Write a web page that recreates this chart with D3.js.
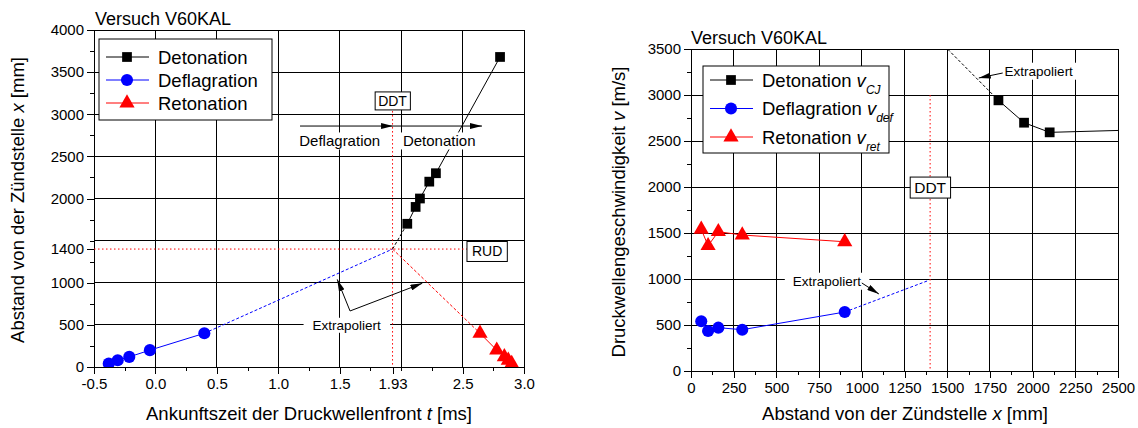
<!DOCTYPE html>
<html>
<head>
<meta charset="utf-8">
<title>Versuch V60KAL</title>
<script src="https://d3js.org/d3.v7.min.js"></script>
<style>
    body { margin: 0; background: #fff; }
    svg { font-family: "Liberation Sans", Arial, sans-serif; }
    .grid line { stroke: #000; stroke-width: 1; shape-rendering: crispEdges; }
    .axis path { display: none; }
    .axis line { stroke: #000; shape-rendering: crispEdges; }
    .axis text { font-size: 15px; fill: #000; }
</style>
</head>
<body>
<svg width="1138" height="428"></svg>
<script>

// ---- left chart: Ankunftszeit t [ms] -> Abstand x [mm]
const detT = [2.05, 2.118, 2.153, 2.229, 2.283, 2.805];
const detX = [1700, 1900, 2000, 2200, 2300, 3680];
const defT = [-0.38, -0.307, -0.213, -0.045, 0.398];
const defX = [40, 80, 120, 200, 400];
const retT = [2.642, 2.778, 2.84, 2.872, 2.9];
const retX = [400, 200, 120, 80, 40];
const ddtT = 1.93, ddtX = 1400;

const leftXTicks = [-0.5, 0, 0.5, 1.0, 1.5, 1.93, 2.5, 3.0];
const leftXMinor = [-0.25, 0.25, 0.75, 1.25, 1.75, 2.0, 2.25, 2.75];
const leftXGrid = [0, 0.5, 1.0, 1.5, 2.0, 2.5];
const leftYTicks = [0, 500, 1000, 1400, 2000, 2500, 3000, 3500, 4000];
const leftYMinor = [250, 750, 1250, 1500, 1750, 2250, 2750, 3250, 3750];
const leftYGrid = [500, 1000, 1500, 2000, 2500, 3000, 3500];

// ---- right chart: Abstand x [mm] -> Geschwindigkeit v [m/s]
const vDetX = [1800, 1950, 2100, 2990];
const vDet = [2942, 2699, 2594, 2640];
const vDefX = [60, 100, 160, 300, 900];
const vDef = [540, 435, 471, 449, 641];
const vRetX = [60, 100, 160, 300, 900];
const vRet = [1540, 1362, 1514, 1478, 1405];
const vDetExtraX = [1400, 1800], vDetExtra = [3690, 2942];
const vDefExtraX = [900, 1385], vDefExtra = [641, 980];

const rightXTicks = d3.range(0, 2501, 250);
const rightXMinor = d3.range(125, 2500, 250);
const rightYTicks = d3.range(0, 3501, 500);
const rightYMinor = d3.range(250, 3500, 500);

const svg = d3.select("svg");

// arrow head used by the annotations
svg.append("defs").append("marker")
    .attr("id", "arrow")
    .attr("viewBox", "0 0 12 6")
    .attr("refX", 12).attr("refY", 3)
    .attr("markerWidth", 12).attr("markerHeight", 6)
    .attr("markerUnits", "userSpaceOnUse")
    .attr("orient", "auto")
    .append("path").attr("d", "M0,0L12,3L0,6Z").attr("fill", "#000");

function panel(id, box, xDomain, yDomain) {
    const x = d3.scaleLinear().domain(xDomain).range([box.left, box.right]);
    const y = d3.scaleLinear().domain(yDomain).range([box.bottom, box.top]);
    const g = svg.append("g");
    g.append("clipPath").attr("id", id)
        .append("rect")
        .attr("x", box.left).attr("y", box.top)
        .attr("width", box.right - box.left).attr("height", box.bottom - box.top);
    return { g, x, y, box, clip: "url(#" + id + ")" };
}

function grid(p, xs, ys) {
    const gg = p.g.append("g").attr("class", "grid");
    gg.selectAll(".vx").data(xs).join("line")
        .attr("x1", d => p.x(d)).attr("x2", d => p.x(d))
        .attr("y1", p.box.top).attr("y2", p.box.bottom);
    gg.selectAll(".hy").data(ys).join("line")
        .attr("y1", d => p.y(d)).attr("y2", d => p.y(d))
        .attr("x1", p.box.left).attr("x2", p.box.right);
}

function axes(p, xt, xm, yt, ym, xfmt, yfmt) {
    p.g.append("g").attr("class", "axis")
        .attr("transform", "translate(0," + p.box.bottom + ")")
        .call(d3.axisBottom(p.x).tickValues(xt).tickSize(7).tickPadding(4).tickFormat(xfmt));
    p.g.append("g").attr("class", "axis")
        .attr("transform", "translate(0," + p.box.bottom + ")")
        .call(d3.axisBottom(p.x).tickValues(xm).tickSize(4).tickFormat(""));
    p.g.append("g").attr("class", "axis")
        .attr("transform", "translate(" + p.box.left + ",0)")
        .call(d3.axisLeft(p.y).tickValues(yt).tickSize(7).tickPadding(3).tickFormat(yfmt));
    p.g.append("g").attr("class", "axis")
        .attr("transform", "translate(" + p.box.left + ",0)")
        .call(d3.axisLeft(p.y).tickValues(ym).tickSize(4).tickFormat(""));
    p.g.append("rect")
        .attr("x", p.box.left).attr("y", p.box.top)
        .attr("width", p.box.right - p.box.left).attr("height", p.box.bottom - p.box.top)
        .attr("fill", "none").attr("stroke", "#000").attr("shape-rendering", "crispEdges");
}

function path(p, xs, ys, color, dash) {
    const pts = xs.map((d, i) => [p.x(d), p.y(ys[i])]);
    p.g.append("path")
        .attr("clip-path", p.clip)
        .attr("d", d3.line()(pts))
        .attr("fill", "none").attr("stroke", color).attr("stroke-width", 1)
        .attr("stroke-dasharray", dash || null);
}

const sym = {
    square: d3.symbol(d3.symbolSquare, 95),
    circle: d3.symbol(d3.symbolCircle, 115),
    triangle: d3.symbol(d3.symbolTriangle, 100)
};

function points(p, xs, ys, color, shape) {
    p.g.append("g").attr("clip-path", p.clip)
        .selectAll("path").data(xs).join("path")
        .attr("transform", (d, i) => "translate(" + p.x(d) + "," + p.y(ys[i]) + ")")
        .attr("d", sym[shape]())
        .attr("fill", color);
}

// text with a white box behind it (covers grid lines)
function label(p, xv, yv, str, size, padX, padY, border) {
    const t = p.g.append("g");
    const txt = t.append("text")
        .attr("x", p.x(xv)).attr("y", p.y(yv))
        .attr("text-anchor", "middle").attr("dy", "0.35em")
        .style("font-size", size + "px").text(str);
    const bb = txt.node().getBBox();
    t.insert("rect", "text")
        .attr("x", bb.x - padX).attr("y", bb.y - padY)
        .attr("width", bb.width + 2 * padX).attr("height", bb.height + 2 * padY)
        .attr("fill", "#fff")
        .attr("stroke", border ? "#000" : "none");
}

function arrow(p, xs, ys) {
    p.g.append("path")
        .attr("d", d3.line()(xs.map((d, i) => [p.x(d), p.y(ys[i])])))
        .attr("fill", "none").attr("stroke", "#000").attr("stroke-width", 1)
        .attr("marker-end", "url(#arrow)");
}

function legend(p, x0, y0, w, h, rows) {
    const lg = p.g.append("g");
    lg.append("rect").attr("x", x0).attr("y", y0).attr("width", w).attr("height", h)
        .attr("fill", "#fff").attr("stroke", "#000");
    rows.forEach(function(r, i) {
        const yy = y0 + r.dy0 + i * r.step;
        lg.append("line").attr("x1", x0 + 7).attr("x2", x0 + 50)
            .attr("y1", yy).attr("y2", yy).attr("stroke", r.color);
        lg.append("path").attr("transform", "translate(" + (x0 + 28) + "," + yy + ")")
            .attr("d", sym[r.shape]()).attr("fill", r.color);
        const t = lg.append("text").attr("x", x0 + 59).attr("y", yy + 6.5).style("font-size", "18.5px");
        t.append("tspan").text(r.text);
        if (r.sub) {
            t.append("tspan").style("font-style", "italic").text(" v");
            t.append("tspan").style("font-style", "italic").style("font-size", "12px")
                .attr("dy", 7).text(r.sub);
        }
    });
}

// ================= left chart =================
const L = panel("clipL", { left: 94, right: 524, top: 30, bottom: 367 }, [-0.5, 3.0], [0, 4000]);
grid(L, leftXGrid, leftYGrid);
axes(L, leftXTicks, leftXMinor, leftYTicks, leftYMinor,
    d => d === 1.93 ? "1.93" : d.toFixed(1), d => d);

// DDT / RUD guide lines
path(L, [ddtT, ddtT], [3180, 0], "#f00", "1.5,2.5");
path(L, [-0.5, 2.6], [ddtX, ddtX], "#f00", "1.5,2.5");

// series
path(L, defT, defX, "#00f");
path(L, [defT[defT.length - 1], ddtT], [defX[defX.length - 1], ddtX], "#00f", "3,2");
path(L, [ddtT, detT[0]], [ddtX, detX[0]], "#000", "3,2");
path(L, detT, detX, "#000");
path(L, [ddtT, retT[0]], [ddtX, retX[0]], "#f00", "3,2");
path(L, retT, retX, "#f00");
points(L, defT, defX, "#00f", "circle");
points(L, detT, detX, "#000", "square");
points(L, retT, retX, "#f00", "triangle");

// annotations
arrow(L, [1.177, 1.934], [2860, 2860]);
arrow(L, [1.934, 2.658], [2860, 2860]);
label(L, 1.50, 2680, "Deflagration", 15, 2, 0);
label(L, 2.31, 2680, "Detonation", 15, 2, 0);
label(L, 1.93, 3157, "DDT", 14, 3, 1, true);
label(L, 2.70, 1370, "RUD", 14, 5, 2, true);
label(L, 1.557, 498, "Extrapoliert", 13.5, 9, 0);
arrow(L, [1.584, 1.48], [665, 1040]);
arrow(L, [1.584, 2.172], [665, 993]);

legend(L, 99, 39, 173, 81, [
    { text: "Detonation", color: "#000", shape: "square", dy0: 18, step: 23 },
    { text: "Deflagration", color: "#00f", shape: "circle", dy0: 18, step: 23 },
    { text: "Retonation", color: "#f00", shape: "triangle", dy0: 18, step: 23 }
]);

svg.append("text").attr("x", 95).attr("y", 25).style("font-size", "18px").text("Versuch V60KAL");

const lxt = svg.append("text").attr("x", 309).attr("y", 420)
    .attr("text-anchor", "middle").style("font-size", "18.5px");
lxt.append("tspan").text("Ankunftszeit der Druckwellenfront ");
lxt.append("tspan").style("font-style", "italic").text("t");
lxt.append("tspan").text(" [ms]");

const lyt = svg.append("text").attr("transform", "translate(24,200) rotate(-90)")
    .attr("text-anchor", "middle").style("font-size", "18.5px");
lyt.append("tspan").text("Abstand von der Zündstelle ");
lyt.append("tspan").style("font-style", "italic").text("x");
lyt.append("tspan").text(" [mm]");

// ================= right chart =================
const R = panel("clipR", { left: 691, right: 1118, top: 49, bottom: 371 }, [0, 2500], [0, 3500]);
grid(R, d3.range(250, 2500, 250), d3.range(500, 3500, 500));
axes(R, rightXTicks, rightXMinor, rightYTicks, rightYMinor, d => d, d => d);

path(R, [1400, 1400], [3000, 0], "#f00", "1.5,2.5");

path(R, vDetExtraX, vDetExtra, "#000", "3,2");
path(R, vDetX, vDet, "#000");
path(R, vDefX, vDef, "#00f");
path(R, vDefExtraX, vDefExtra, "#00f", "3,2");
path(R, vRetX, vRet, "#f00");
points(R, vDetX, vDet, "#000", "square");
points(R, vDefX, vDef, "#00f", "circle");
points(R, vRetX, vRet, "#f00", "triangle");

label(R, 1400, 1993, "DDT", 15.5, 4, 2, true);
label(R, 2036, 3261, "Extrapoliert", 13.5, 3, 1);
arrow(R, [1825, 1685], [3239, 3185]);
label(R, 796, 978, "Extrapoliert", 13.5, 8, 1);
arrow(R, [1000, 1100], [957, 837]);

legend(R, 703, 66, 186, 87, [
    { text: "Detonation", sub: "CJ", color: "#000", shape: "square", dy0: 14, step: 28.5 },
    { text: "Deflagration", sub: "def", color: "#00f", shape: "circle", dy0: 14, step: 28.5 },
    { text: "Retonation", sub: "ret", color: "#f00", shape: "triangle", dy0: 14, step: 28.5 }
]);

svg.append("text").attr("x", 691).attr("y", 44).style("font-size", "18px").text("Versuch V60KAL");

const rxt = svg.append("text").attr("x", 905).attr("y", 420)
    .attr("text-anchor", "middle").style("font-size", "18.5px");
rxt.append("tspan").text("Abstand von der Zündstelle ");
rxt.append("tspan").style("font-style", "italic").text("x");
rxt.append("tspan").text(" [mm]");

const ryt = svg.append("text").attr("transform", "translate(625,212) rotate(-90)")
    .attr("text-anchor", "middle").style("font-size", "18.5px");
ryt.append("tspan").text("Druckwellengeschwindigkeit ");
ryt.append("tspan").style("font-style", "italic").text("v");
ryt.append("tspan").text(" [m/s]");

</script>
</body>
</html>
